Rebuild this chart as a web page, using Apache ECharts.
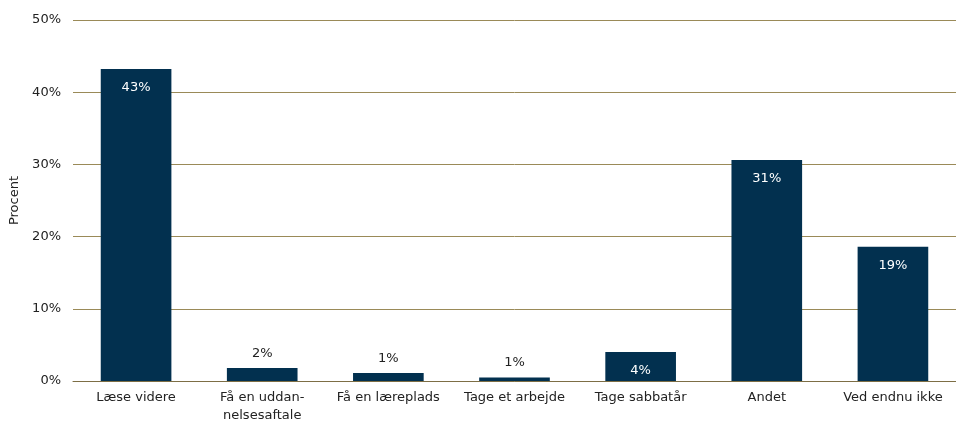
<!DOCTYPE html>
<html>
<head>
<meta charset="utf-8">
<script src="https://cdn.jsdelivr.net/npm/echarts@6/dist/echarts.min.js"></script>
<style>
  html, body { margin: 0; padding: 0; background: #fff; }
  #chart { width: 956px; height: 421px; }
</style>
</head>
<body>
<div id="chart"></div>
<script>
const categories = ['Læse videre', 'Få en uddan-\nnelsesaftale', 'Få en læreplads', 'Tage et arbejde', 'Tage sabbatår', 'Andet', 'Ved endnu ikke']
const values = [43.2, 1.8, 1.1, 0.5, 4.0, 30.6, 18.6]

const BAR = '#02304f'
const GRID = '#9a8a58'
const FONT = 'DejaVu Sans'

const chart = echarts.init(document.getElementById('chart'))
chart.setOption({
  animation: false,
  textStyle: { fontFamily: FONT },
  grid: { left: 73, right: 0, top: 20, bottom: 40, outerBoundsMode: 'none', containLabel: false },
  xAxis: {
    type: 'category',
    data: categories,
    axisTick: { show: false },
    axisLine: { lineStyle: { color: '#7d6e45', width: 1 } },
    axisLabel: { color: '#222', fontSize: 13, fontFamily: FONT, margin: 8, lineHeight: 18, interval: 0 }
  },
  yAxis: {
    type: 'value',
    min: 0,
    max: 50,
    interval: 10,
    name: 'Procent',
    nameLocation: 'middle',
    nameGap: 51,
    nameTextStyle: { color: '#222', fontSize: 13, fontFamily: FONT },
    axisLine: { show: false },
    axisTick: { show: false },
    splitLine: { lineStyle: { color: GRID, width: 1 } },
    axisLabel: { color: '#222', fontSize: 13, fontFamily: FONT, margin: 12, formatter: '{value}%' }
  },
  series: [{
    type: 'bar',
    barWidth: '56%',
    data: values.map(v => {
      const inside = v >= 3
      return {
        value: v,
        itemStyle: { color: BAR },
        label: {
          show: true,
          position: inside ? 'insideTop' : 'top',
          distance: inside ? 12 : 8,
          color: inside ? '#fff' : '#222',
          fontSize: 13,
          fontFamily: FONT,
          formatter: p => Math.round(p.value) + '%'
        }
      }
    })
  }]
})
</script>
</body>
</html>
